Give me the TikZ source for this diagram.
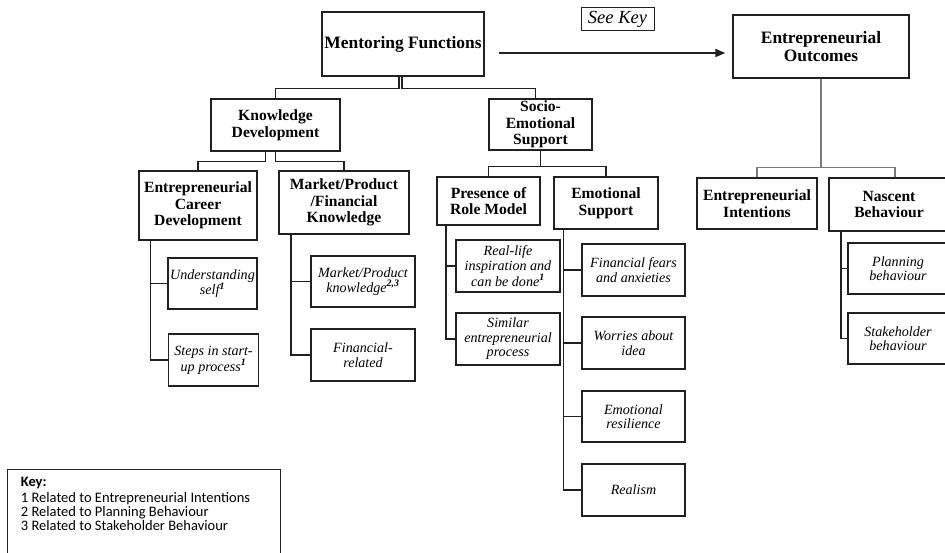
\documentclass[tikz,border=0pt]{standalone}
\usepackage{fontspec}
\setmainfont{Liberation Serif}
\newfontfamily\keyfont{Carlito}
\usetikzlibrary{arrows.meta}
\definecolor{linec}{HTML}{231F20}
\definecolor{grayc}{HTML}{7A7A7A}
\begin{document}
\begin{tikzpicture}[x=1pt,y=-1pt,
  box/.style={draw=linec, line width=1.35pt, inner sep=0pt, align=center, text=black},
  topbox/.style={box, font=\fontsize{17.4}{18}\selectfont\bfseries},
  midbox/.style={box, font=\fontsize{15.6}{16.6}\selectfont\bfseries},
  leafbox/.style={box, font=\fontsize{14.1}{14.6}\selectfont\itshape},
  conn/.style={draw=linec, line width=1.25pt},
  gconn/.style={draw=grayc, line width=1.3pt},
  keyline/.style={anchor=base west, inner sep=0pt, font=\keyfont\fontsize{14.5}{14.5}\selectfont}
]
\useasboundingbox (0,0) rectangle (945,552);
\fill[white] (0,0) rectangle (945,552);
\begin{scope}
\clip (0,0) rectangle (945,552);

% top level
\node[topbox, minimum width=162pt, minimum height=64pt] (MF) at (403,44) {Mentoring Functions};
\node[box, font=\fontsize{18.5}{19}\selectfont\itshape, line width=1pt, minimum width=73pt, minimum height=23pt] (SK) at (617.5,19.2) {See Key};
\node[topbox, minimum width=176pt, minimum height=63pt] (EO) at (821,46.5) {Entrepreneurial\\Outcomes};

% second level
\node[midbox, minimum width=129pt, minimum height=52pt] (KD) at (275.5,125) {Knowledge\\Development};
\node[midbox, minimum width=103pt, minimum height=51pt] (SES) at (540.5,124.5) {Socio-\\Emotional\\Support};

% third level
\node[midbox, minimum width=118pt, minimum height=69pt] (ECD) at (198,205.5) {Entrepreneurial\\Career\\Development};
\node[midbox, minimum width=130pt, minimum height=63pt] (MPF) at (344,202.5) {Market/Product\\/Financial\\Knowledge};
\node[midbox, minimum width=103pt, minimum height=48pt] (PRM) at (488.5,201) {Presence of\\Role Model};
\node[midbox, minimum width=104pt, minimum height=52pt] (ES) at (606,203) {Emotional\\Support};
\node[midbox, minimum width=120pt, minimum height=51pt] (EI) at (757,203.5) {Entrepreneurial\\Intentions};
\node[midbox, minimum width=120pt, minimum height=53pt] (NB) at (889,204.5) {Nascent\\Behaviour};

% leaves
\node[leafbox, minimum width=89pt, minimum height=51pt] (US) at (212.5,283.5) {Understanding\\self\textsuperscript{\textbf{1}}};
\node[leafbox, minimum width=90pt, minimum height=52pt] (SP) at (213.5,360) {Steps in start-\\up process\textsuperscript{\textbf{1}}};
\node[leafbox, minimum width=104pt, minimum height=51pt] (MPK) at (363,281.5) {Market/Product\\knowledge\textsuperscript{\textbf{2,3}}};
\node[leafbox, minimum width=104pt, minimum height=52pt] (FR) at (363,355) {Financial-\\related};
\node[leafbox, minimum width=104pt, minimum height=52pt] (RL) at (508,266) {Real-life\\inspiration and\\can be done\textsuperscript{\textbf{1}}};
\node[leafbox, minimum width=104pt, minimum height=52pt] (SIM) at (508,339) {Similar\\entrepreneurial\\process};
\node[leafbox, minimum width=103pt, minimum height=52pt] (FF) at (633.5,270) {Financial fears\\and anxieties};
\node[leafbox, minimum width=103pt, minimum height=52pt] (WA) at (633.5,343) {Worries about\\idea};
\node[leafbox, minimum width=103pt, minimum height=51pt] (ER) at (633.5,416.5) {Emotional\\resilience};
\node[leafbox, minimum width=103pt, minimum height=52pt] (RE) at (633.5,490) {Realism};
\node[leafbox, minimum width=100pt, minimum height=51pt] (PB) at (898,268.5) {Planning\\behaviour};
\node[leafbox, minimum width=100pt, minimum height=51pt] (SB) at (898,338.5) {Stakeholder\\behaviour};

% main arrow
\draw[draw=linec, line width=1.8pt, -{Triangle[length=10pt,width=8pt]}]
  ([xshift=14pt,yshift=-9pt]MF.east) -- ([xshift=-7pt,yshift=-6.5pt]EO.west);

% tree connectors
\draw[conn] ([xshift=-4pt]MF.south) -- ++(0,12) -| (KD.north);
\draw[conn] ([xshift=-1pt]MF.south) -- ++(0,12) -| ([xshift=-5pt]SES.north);
\draw[conn] ([xshift=-10pt]KD.south) -- ++(0,9.5) -| (ECD.north);
\draw[conn] (KD.south) -- ++(0,9.5) -| (MPF.north);
\draw[conn] (SES.south) -- ++(0,15.5) -| (PRM.north);
\draw[conn] (SES.south) -- ++(0,15.5) -| (ES.north);
\draw[gconn] (EO.south) -- ++(0,88.5) -| (EI.north);
\draw[gconn] (EO.south) -- ++(0,88.5) -| ([xshift=6pt]NB.north);

% trunks
\draw[conn] ([xshift=12.5pt]ECD.south west) |- (US.west);
\draw[conn] ([xshift=12.5pt]ECD.south west) |- (SP.west);
\draw[conn] ([xshift=12.7pt]MPF.south west) |- (MPK.west);
\draw[conn] ([xshift=12.7pt]MPF.south west) |- (FR.west);
\draw[conn] ([xshift=9.7pt]PRM.south west) |- (RL.west);
\draw[conn] ([xshift=9.7pt]PRM.south west) |- (SIM.west);
\draw[conn] ([xshift=10.3pt]ES.south west) |- (FF.west);
\draw[conn] ([xshift=10.3pt]ES.south west) |- (WA.west);
\draw[conn] ([xshift=10.3pt]ES.south west) |- (ER.west);
\draw[conn] ([xshift=10.3pt]ES.south west) |- (RE.west);
\draw[conn] ([xshift=12.7pt]NB.south west) |- (PB.west);
\draw[conn] ([xshift=12.7pt]NB.south west) |- (SB.west);

% key
\node[draw=linec, line width=1pt, minimum width=273pt, minimum height=95pt, anchor=north west, inner sep=0pt] (keybox) at (7.3,469) {};
\node[keyline, font=\keyfont\fontsize{14.5}{14.5}\selectfont\bfseries] (k0) at (20.7,486) {Key:};
\node[keyline] (k1) at (20.7,502.3) {1 Related to Entrepreneurial Intentions};
\node[keyline] (k2) at (20.7,516.3) {2 Related to Planning Behaviour};
\node[keyline] (k3) at (20.7,530.7) {3 Related to Stakeholder Behaviour};
\end{scope}
\end{tikzpicture}
\end{document}
